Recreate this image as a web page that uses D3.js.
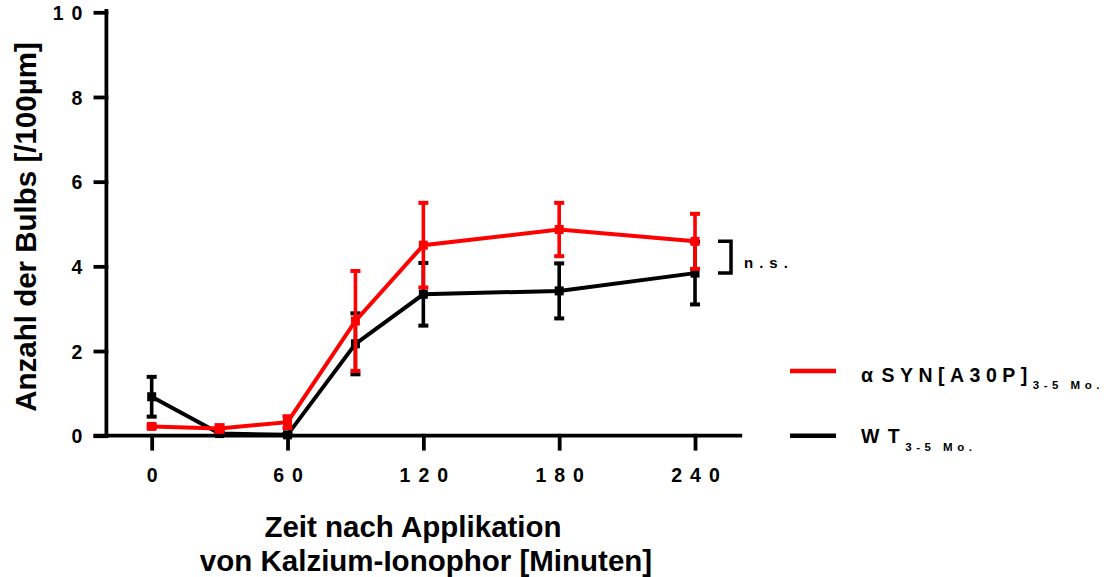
<!DOCTYPE html>
<html>
<head>
<meta charset="utf-8">
<script src="https://d3js.org/d3.v7.min.js"></script>
<style>
  body { margin: 0; background: #fff; }
  text { font-family: "Liberation Sans", Arial, sans-serif; font-weight: bold; }
</style>
</head>
<body>
<svg id="chart" width="1109" height="577"></svg>
<script>

// time points (minutes after ionophore)
const times = [0, 30, 60, 90, 120, 180, 240]

// mean bulbs per 100 µm and SEM
const synMean = [0.22, 0.17, 0.32, 2.71, 4.50, 4.87, 4.59]
const synErr  = [0.04, 0.08, 0.14, 1.18, 1.00, 0.63, 0.65]
const wtMean  = [0.92, 0.05, 0.02, 2.17, 3.34, 3.42, 3.84]
const wtErr   = [0.47, 0.03, 0.02, 0.72, 0.74, 0.65, 0.74]

const xTicks = [0, 60, 120, 180, 240]
const yTicks = [0, 2, 4, 6, 8, 10]

const series = [
  { name: 'syn', color: '#ff0000', mean: synMean, err: synErr },
  { name: 'wt',  color: '#000000', mean: wtMean,  err: wtErr }
]

const svg = d3.select('#chart')

const x = d3.scaleLinear().domain([-20, 260]).range([106.4, 740.3])
const y = d3.scaleLinear().domain([0, 10]).range([435.7, 12.3])

// axes via d3.axis, then restyled to look like the prism export
const xAxis = svg.append('g')
    .attr('transform', `translate(0,${ y(0) })`)
    .call(d3.axisBottom(x).tickValues(xTicks).tickSize(13).tickFormat(d3.format('d')))
xAxis.select('.domain').attr('d', `M${ x(-20) - 11 },0H${ x(260) }`)

const yAxis = svg.append('g')
    .attr('transform', `translate(${ x(-20) },0)`)
    .call(d3.axisLeft(y).tickValues(yTicks).tickSize(11).tickFormat(d3.format('d')))
yAxis.select('.domain').attr('d', `M0,${ y(10) - 1.5 }V${ y(0) }`)

svg.selectAll('.domain, .tick line')
    .attr('stroke', '#000')
    .attr('stroke-width', 3.8)
    .attr('stroke-linecap', 'square')

xAxis.selectAll('.tick text')
    .attr('y', 0).attr('dy', 0)
    .attr('transform', 'translate(4,46)')
    .style('font-size', '19.5px')
    .style('letter-spacing', '8px')
    .attr('fill', '#000')

yAxis.selectAll('.tick text')
    .attr('x', -16).attr('dy', '0.36em')
    .style('font-size', '19.5px')
    .style('letter-spacing', '8px')
    .attr('fill', '#000')

// axis titles
svg.append('text')
    .attr('transform', `translate(36,${ (y(0) + y(10)) / 2 + 3 }) rotate(-90)`)
    .attr('text-anchor', 'middle')
    .style('font-size', '29.5px')
    .text('Anzahl der Bulbs [/100µm]')

const xt = svg.append('text')
    .attr('text-anchor', 'middle')
    .style('font-size', '29.5px')
xt.append('tspan').attr('x', 413).attr('y', 537).text('Zeit nach Applikation')
xt.append('tspan').attr('x', 426).attr('y', 571).text('von Kalzium-Ionophor [Minuten]')

// lines, error bars, markers (black first so red sits on top)
const line = d3.line().x(d => x(d[0])).y(d => y(d[1]))

series.slice().reverse().forEach(s => {
  const pts = times.map((t, i) => [t, s.mean[i], s.err[i]])
  const g = svg.append('g').attr('class', s.name)

  g.selectAll('line.bar')
    .data(pts)
    .join('line')
      .attr('class', 'bar')
      .attr('x1', d => x(d[0])).attr('x2', d => x(d[0]))
      .attr('y1', d => y(d[1] - d[2])).attr('y2', d => y(d[1] + d[2]))
      .attr('stroke', s.color)
      .attr('stroke-width', 3.6)

  g.selectAll('rect.cap')
    .data(pts.flatMap(d => [d[1] - d[2], d[1] + d[2]].map(v => [d[0], v])))
    .join('rect')
      .attr('class', 'cap')
      .attr('x', d => x(d[0]) - 5)
      .attr('y', d => y(d[1]) - 2)
      .attr('width', 10)
      .attr('height', 4)
      .attr('fill', s.color)

  g.append('path')
    .datum(pts)
    .attr('d', line)
    .attr('fill', 'none')
    .attr('stroke', s.color)
    .attr('stroke-width', 4)

  g.selectAll('rect.pt')
    .data(pts)
    .join('rect')
      .attr('class', 'pt')
      .attr('x', d => x(d[0]) - 4.5)
      .attr('y', d => y(d[1]) - 4.5)
      .attr('width', 9)
      .attr('height', 9)
      .attr('fill', s.color)
})

// n.s. bracket between the 240 min means
const last = times.length - 1
const bx = x(times[last])
svg.append('path')
    .attr('d', `M${ bx + 23 },${ y(synMean[last]) }H${ bx + 36 }V${ y(wtMean[last]) }H${ bx + 23 }`)
    .attr('fill', 'none')
    .attr('stroke', '#000')
    .attr('stroke-width', 3.5)
svg.append('text')
    .attr('x', bx + 49)
    .attr('y', 268)
    .style('font-size', '15px')
    .style('letter-spacing', '6px')
    .text('n.s.')

// legend
const legend = [
  { color: '#ff0000', label: 'α SYN[A30P]', sub: '3-5 Mo.', y: 371, ty: 381.5 },
  { color: '#000000', label: 'W T',         sub: '3-5 Mo.', y: 435.7, ty: 443 }
]

const lg = svg.selectAll('g.legend')
    .data(legend)
    .join('g')
      .attr('class', 'legend')

lg.append('line')
    .attr('x1', 790).attr('x2', 836)
    .attr('y1', d => d.y).attr('y2', d => d.y)
    .attr('stroke', d => d.color)
    .attr('stroke-width', 4.5)

const lt = lg.append('text')
    .attr('x', 861)
    .attr('y', d => d.ty)
    .style('font-size', '19.5px')
    .style('letter-spacing', '5.5px')
    .style('word-spacing', '-8px')
lt.append('tspan').text(d => d.label)
lt.append('tspan')
    .attr('dy', 7.5)
    .style('font-size', '11.5px')
    .style('letter-spacing', '4.5px')
    .style('word-spacing', '0px')
    .text(d => d.sub)

</script>
</body>
</html>
